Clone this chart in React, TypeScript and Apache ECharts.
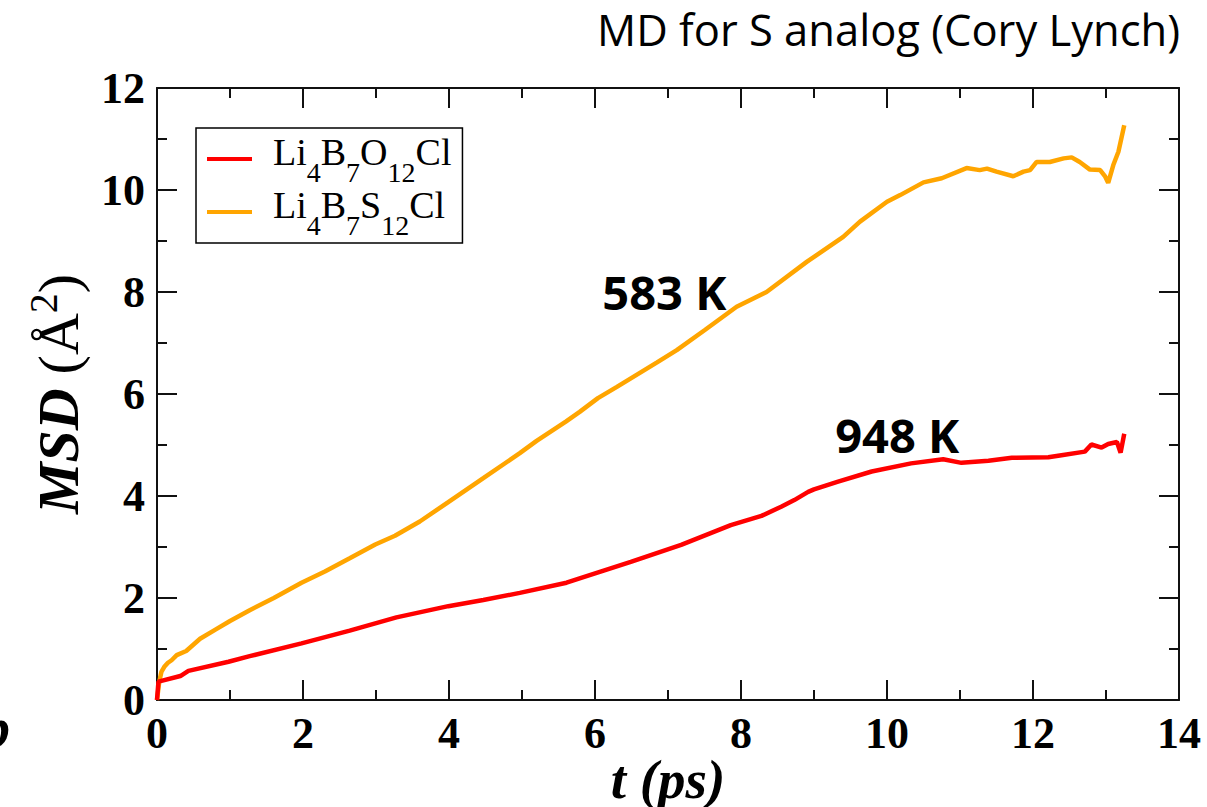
import React, { useEffect, useRef } from "react";
import * as echarts from "echarts";

// ---- data ----
const seriesNames = ["Li4B7O12Cl", "Li4B7S12Cl"];
const seriesColors = ["#ff0000", "#ffa500"];

// Li4B7O12Cl (red)
const tO = [0, 0.02, 0.32, 0.43, 0.98, 1.27, 1.98, 2.64, 3.28, 3.99, 4.47, 4.97, 5.61, 5.8, 6.49, 7.18, 7.86, 8.28, 8.55, 8.73, 8.92, 9.0, 9.33, 9.79, 10.33, 10.77, 11.02, 11.39, 11.71, 12.21, 12.39, 12.71, 12.8, 12.94, 13.03, 13.15, 13.2, 13.25];
const msdO = [0, 0.36, 0.47, 0.57, 0.75, 0.86, 1.11, 1.36, 1.62, 1.84, 1.96, 2.1, 2.3, 2.39, 2.71, 3.04, 3.43, 3.61, 3.79, 3.92, 4.08, 4.13, 4.28, 4.48, 4.64, 4.72, 4.65, 4.69, 4.75, 4.76, 4.8, 4.87, 5.01, 4.95, 5.02, 5.06, 4.85, 5.22];

// Li4B7S12Cl (orange)
const tS = [0, 0.03, 0.06, 0.1, 0.15, 0.2, 0.27, 0.4, 0.59, 0.8, 1.0, 1.27, 1.6, 1.98, 2.3, 2.64, 2.99, 3.26, 3.6, 3.99, 4.47, 4.97, 5.2, 5.6, 5.79, 6.04, 6.3, 6.85, 7.12, 7.5, 7.94, 8.35, 8.9, 9.4, 9.63, 10.0, 10.18, 10.5, 10.75, 11.09, 11.27, 11.37, 11.5, 11.73, 11.87, 11.96, 12.05, 12.23, 12.42, 12.53, 12.64, 12.78, 12.92, 12.99, 13.03, 13.1, 13.17, 13.25];
const msdS = [0, 0.35, 0.55, 0.65, 0.73, 0.78, 0.88, 0.96, 1.2, 1.38, 1.55, 1.76, 2.0, 2.3, 2.52, 2.78, 3.05, 3.22, 3.5, 3.88, 4.35, 4.84, 5.08, 5.46, 5.65, 5.92, 6.14, 6.62, 6.86, 7.25, 7.71, 8.0, 8.59, 9.08, 9.38, 9.77, 9.9, 10.15, 10.23, 10.43, 10.39, 10.42, 10.36, 10.27, 10.36, 10.39, 10.55, 10.55, 10.62, 10.64, 10.55, 10.4, 10.39, 10.26, 10.14, 10.49, 10.75, 11.27];

// annotations
const annLabels = ["583 K", "948 K"];
const annT = [6.95, 10.14];
const annMsd = [8.0, 5.2];

const titleText = "MD for S analog (Cory Lynch)";

const SERIF = '"Liberation Serif", "Times New Roman", serif';
const SANS = '"Open Sans", "Noto Sans", sans-serif';

function legendRich(name: string): string {
  if (name === "Li4B7O12Cl") return "{g|}{n|Li}{s|4}{n|B}{s|7}{n|O}{s|12}{n|Cl}";
  return "{g|}{n|Li}{s|4}{n|B}{s|7}{n|S}{s|12}{n|Cl}";
}

export default function App() {
  const ref = useRef<HTMLDivElement>(null);
  useEffect(() => {
    if (!ref.current) return;
    const chart = echarts.init(ref.current, null, { renderer: "svg" });
    const axisLine = { show: true, onZero: false, lineStyle: { color: "#111", width: 2 } };
    const axisTick = { show: true, inside: true, length: 20, lineStyle: { color: "#111", width: 2 } };
    const minorTick = { show: true, splitNumber: 2, length: 10, lineStyle: { color: "#111", width: 2 } };
    const tickLabel = { color: "#000", fontFamily: SERIF, fontWeight: "bold", fontSize: 44 };

    chart.setOption({
      animation: false,
      backgroundColor: "#fff",
      title: {
        text: titleText,
        right: 22,
        top: 2,
        textStyle: { fontFamily: SANS, fontWeight: "normal", fontSize: 43.5, color: "#000" },
      },
      grid: { left: 157, top: 88, width: 1022, height: 612, outerBoundsMode: "none", containLabel: false },
      legend: {
        data: seriesNames,
        orient: "vertical",
        left: 196,
        top: 128,
        icon: "rect",
        itemWidth: 45,
        itemHeight: 4,
        itemGap: -1,
        padding: [4, 11, 4, 11],
        borderColor: "#000",
        borderWidth: 1.5,
        backgroundColor: "#fff",
        formatter: legendRich,
        textStyle: {
          color: "#000",
          rich: {
            g: { width: 16 },
            n: { fontFamily: SERIF, fontSize: 38, lineHeight: 38, color: "#000", padding: [0, 0, 14, 0] },
            s: { fontFamily: SERIF, fontSize: 28, lineHeight: 28, color: "#000", padding: [26, 0, 0, 0] },
          },
        },
      },
      xAxis: [
        {
          type: "value",
          min: 0,
          max: 14,
          interval: 2,
          position: "bottom",
          axisLine,
          axisTick,
          minorTick,
          splitLine: { show: false },
          axisLabel: { ...tickLabel, margin: 11 },
          name: "{i|t (ps)}",
          nameLocation: "middle",
          nameGap: 57,
          nameMoveOverlap: false,
          nameTextStyle: {
            rich: { i: { fontFamily: SERIF, fontStyle: "italic", fontWeight: "bold", fontSize: 55, lineHeight: 44, color: "#000" } },
          },
        },
        {
          type: "value",
          min: 0,
          max: 14,
          interval: 2,
          position: "top",
          axisLine,
          axisTick,
          minorTick,
          splitLine: { show: false },
          axisLabel: { show: false },
        },
      ],
      yAxis: [
        {
          type: "value",
          min: 0,
          max: 12,
          interval: 2,
          position: "left",
          axisLine,
          axisTick,
          minorTick,
          splitLine: { show: false },
          axisLabel: { ...tickLabel, margin: 12 },
          name: "{i|MSD}{sp|}{r|(Å}{u|2}{r|)}",
          nameLocation: "middle",
          nameRotate: 90,
          nameGap: 70,
          nameMoveOverlap: false,
          nameTextStyle: {
            rich: {
              i: { fontFamily: SERIF, fontStyle: "italic", fontWeight: "bold", fontSize: 58, lineHeight: 58, color: "#000" },
              sp: { width: 14 },
              r: { fontFamily: SERIF, fontSize: 58, lineHeight: 58, color: "#000" },
              u: { fontFamily: SERIF, fontSize: 40, lineHeight: 40, color: "#000", padding: [0, 0, 30, 0] },
            },
          },
        },
        {
          type: "value",
          min: 0,
          max: 12,
          interval: 2,
          position: "right",
          axisLine,
          axisTick,
          minorTick,
          splitLine: { show: false },
          axisLabel: { show: false },
        },
      ],
      series: [
        {
          name: seriesNames[0],
          type: "line",
          data: tO.map((t, i) => [t, msdO[i]]),
          showSymbol: false,
          color: seriesColors[0],
          lineStyle: { color: seriesColors[0], width: 4.5 },
          z: 3,
        },
        {
          name: seriesNames[1],
          type: "line",
          data: tS.map((t, i) => [t, msdS[i]]),
          showSymbol: false,
          color: seriesColors[1],
          lineStyle: { color: seriesColors[1], width: 4.5 },
          z: 2,
        },
        {
          name: "annotations",
          type: "scatter",
          symbolSize: 0,
          silent: true,
          itemStyle: { opacity: 1 },
          data: annLabels.map((l, i) => ({ name: l, value: [annT[i], annMsd[i]] })),
          label: {
            show: true,
            position: "inside",
            formatter: "{b}",
            fontFamily: SANS,
            fontWeight: "bold",
            fontSize: 47,
            color: "#000",
            opacity: 1,
            textBorderWidth: 0,
          },
          z: 5,
        },
      ],
      graphic: [
        {
          type: "text",
          left: -18,
          top: 700,
          style: { text: "b", font: 'italic bold 56px "Liberation Serif"', fill: "#000" },
        },
      ],
    });
    return () => chart.dispose();
  }, []);
  return <div ref={ref} style={{ position: "fixed", left: 0, top: 0, width: 1207, height: 807 }} />;
}
